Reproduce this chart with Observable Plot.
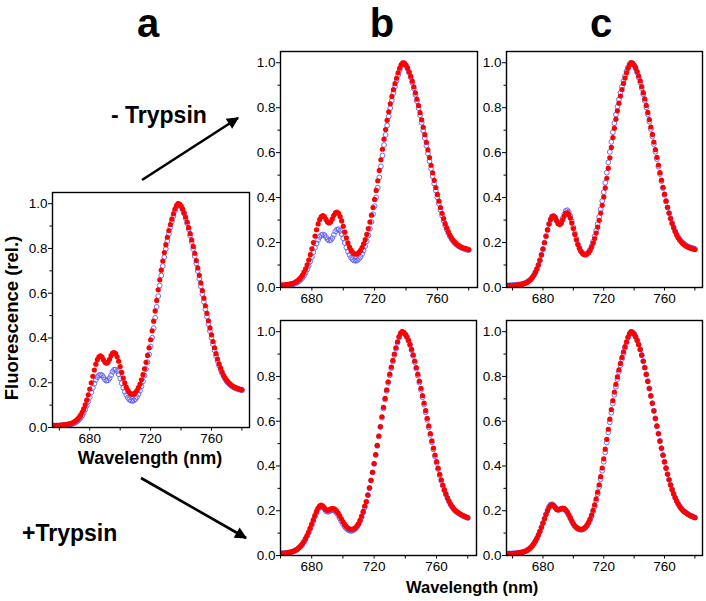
<!DOCTYPE html>
<html>
<head>
<meta charset="utf-8">
<script src="https://cdn.jsdelivr.net/npm/d3@7"></script>
<script src="https://cdn.jsdelivr.net/npm/@observablehq/plot@0.6"></script>
<style>
  html, body { margin: 0; padding: 0; background: #fff; }
  #chart { position: relative; width: 706px; height: 601px; background: #fff; overflow: hidden; }
  #chart svg { position: absolute; overflow: visible; }
</style>
</head>
<body>
<div id="chart"></div>
<script>
// ---------------- DATA ----------------
const wavelength = [
  655,656,657,658,659,660,661,662,663,664,
  665,666,667,668,669,670,671,672,673,674,
  675,676,677,678,679,680,681,682,683,684,
  685,686,687,688,689,690,691,692,693,694,
  695,696,697,698,699,700,701,702,703,704,
  705,706,707,708,709,710,711,712,713,714,
  715,716,717,718,719,720,721,722,723,724,
  725,726,727,728,729,730,731,732,733,734,
  735,736,737,738,739,740,741,742,743,744,
  745,746,747,748,749,750,751,752,753,754,
  755,756,757,758,759,760,761,762,763,764,
  765,766,767,768,769,770,771,772,773,774,
  775,776,777,778,779,780
];

// - Trypsin, sample a / b (red = filled, blue = open)
const minusRed = [
  .010,.010,.010,.010,.010,.010,.011,.011,.012,.013,
  .014,.015,.017,.019,.022,.026,.031,.037,.045,.055,
  .068,.083,.101,.122,.146,.172,.200,.229,.257,.283,
  .303,.316,.320,.315,.303,.291,.287,.292,.305,.321,
  .332,.335,.330,.316,.296,.272,.246,.221,.199,.180,
  .166,.156,.150,.148,.150,.156,.165,.178,.194,.213,
  .236,.262,.291,.322,.356,.392,.432,.475,.521,.568,
  .615,.660,.703,.744,.782,.817,.850,.880,.907,.931,
  .955,.976,.992,1.000,.998,.990,.977,.960,.940,.918,
  .893,.866,.838,.809,.778,.746,.713,.680,.646,.612,
  .578,.544,.510,.477,.445,.414,.384,.356,.330,.306,
  .284,.265,.248,.233,.221,.211,.203,.196,.190,.185,
  .181,.178,.175,.173,.171,.169
];
const minusBlue = [
  .008,.008,.008,.008,.008,.008,.009,.009,.010,.010,
  .011,.012,.013,.015,.017,.020,.024,.029,.035,.043,
  .053,.065,.080,.097,.116,.136,.157,.177,.196,.212,
  .225,.233,.236,.233,.224,.214,.209,.211,.220,.234,
  .249,.258,.259,.252,.238,.219,.198,.178,.160,.145,
  .133,.125,.120,.119,.121,.127,.136,.149,.165,.184,
  .206,.232,.261,.292,.326,.362,.401,.444,.490,.539,
  .587,.634,.679,.721,.761,.798,.833,.865,.894,.920,
  .945,.968,.986,.997,.996,.988,.974,.956,.935,.912,
  .886,.858,.829,.798,.766,.733,.699,.665,.631,.596,
  .562,.528,.495,.462,.431,.401,.372,.345,.320,.297,
  .276,.258,.242,.228,.216,.206,.198,.192,.186,.182,
  .178,.175,.172,.170,.168,.166
];
// - Trypsin, sample c
const cTopRed = [
  .008,.008,.008,.009,.009,.009,.010,.010,.011,.012,
  .013,.014,.016,.018,.021,.025,.030,.036,.044,.054,
  .067,.082,.100,.121,.145,.171,.199,.228,.256,.282,
  .302,.315,.318,.312,.298,.285,.280,.286,.301,.318,
  .330,.332,.325,.309,.287,.262,.236,.212,.191,.174,
  .161,.152,.147,.146,.149,.155,.165,.179,.197,.218,
  .242,.269,.299,.331,.366,.403,.443,.486,.531,.577,
  .623,.667,.709,.749,.786,.820,.852,.881,.908,.932,
  .955,.975,.991,1.000,.998,.990,.978,.961,.941,.919,
  .894,.867,.839,.810,.779,.747,.714,.681,.647,.613,
  .579,.545,.511,.478,.446,.415,.385,.357,.331,.307,
  .285,.266,.249,.234,.221,.211,.203,.196,.190,.185,
  .181,.178,.175,.173,.171,.169
];
const cTopBlue = [
  .009,.009,.009,.010,.010,.010,.011,.011,.012,.013,
  .014,.015,.017,.019,.022,.026,.031,.037,.045,.055,
  .068,.083,.101,.122,.146,.172,.200,.229,.257,.283,
  .303,.316,.318,.311,.297,.285,.282,.290,.308,.327,
  .341,.344,.336,.318,.294,.268,.241,.216,.194,.176,
  .162,.152,.147,.146,.150,.157,.168,.184,.204,.227,
  .253,.282,.314,.348,.385,.424,.466,.511,.557,.603,
  .648,.691,.731,.769,.804,.836,.866,.893,.918,.941,
  .962,.980,.994,1.000,.996,.987,.974,.956,.935,.912,
  .887,.860,.831,.801,.770,.738,.705,.672,.638,.604,
  .571,.538,.505,.473,.442,.412,.383,.356,.331,.308,
  .287,.268,.251,.236,.224,.214,.206,.199,.193,.188,
  .184,.181,.178,.176,.174,.172
];
// + Trypsin, sample b
const bBotRed = [
  .008,.008,.008,.009,.009,.009,.010,.010,.011,.012,
  .013,.014,.016,.018,.021,.025,.030,.036,.043,.052,
  .062,.075,.089,.105,.122,.140,.159,.178,.196,.211,
  .221,.225,.222,.214,.206,.202,.203,.207,.210,.210,
  .206,.199,.189,.177,.164,.151,.140,.131,.124,.119,
  .117,.117,.119,.124,.132,.143,.158,.176,.197,.221,
  .240,.270,.302,.336,.372,.411,.451,.492,.534,.576,
  .620,.662,.702,.740,.776,.810,.842,.872,.900,.928,
  .955,.978,.994,1.000,.996,.988,.977,.962,.943,.921,
  .896,.869,.840,.810,.779,.747,.714,.681,.647,.613,
  .579,.545,.512,.480,.449,.419,.390,.363,.338,.315,
  .294,.275,.258,.243,.230,.219,.210,.202,.196,.191,
  .186,.182,.178,.175,.172,.169
];
const bBotBlue = [
  .008,.008,.008,.009,.009,.009,.010,.010,.011,.012,
  .013,.014,.016,.018,.021,.024,.029,.035,.042,.050,
  .060,.072,.086,.101,.118,.136,.154,.173,.190,.205,
  .215,.219,.216,.208,.199,.195,.196,.200,.203,.202,
  .198,.190,.179,.166,.153,.141,.130,.122,.116,.112,
  .110,.111,.114,.119,.127,.138,.153,.171,.192,.215,
  .241,.270,.301,.335,.371,.409,.449,.490,.532,.574,
  .616,.657,.697,.735,.771,.805,.837,.867,.896,.924,
  .951,.975,.992,.999,.996,.988,.976,.960,.940,.917,
  .892,.864,.835,.804,.773,.740,.707,.674,.640,.606,
  .572,.539,.506,.474,.443,.414,.386,.359,.334,.311,
  .290,.272,.255,.240,.227,.216,.207,.200,.194,.189,
  .185,.181,.177,.174,.171,.168
];
// + Trypsin, sample c
const cBotRed = [
  .008,.008,.008,.009,.009,.009,.010,.010,.011,.012,
  .013,.014,.016,.018,.021,.025,.030,.036,.044,.053,
  .064,.077,.092,.108,.126,.145,.164,.183,.200,.214,
  .223,.226,.222,.214,.206,.203,.205,.209,.211,.209,
  .204,.195,.183,.169,.155,.143,.133,.126,.121,.118,
  .117,.118,.121,.127,.136,.148,.163,.181,.202,.226,
  .253,.283,.316,.352,.391,.432,.475,.519,.564,.609,
  .652,.692,.730,.765,.798,.829,.858,.885,.910,.933,
  .955,.976,.992,1.000,.997,.989,.977,.961,.942,.920,
  .895,.868,.839,.809,.778,.746,.713,.680,.646,.612,
  .578,.544,.511,.479,.448,.418,.390,.363,.338,.315,
  .294,.275,.258,.243,.230,.219,.210,.202,.196,.191,
  .186,.182,.178,.175,.172,.169
];
const cBotBlue = [
  .008,.008,.008,.009,.009,.009,.010,.010,.011,.012,
  .013,.014,.016,.018,.021,.025,.030,.036,.044,.053,
  .064,.077,.092,.108,.126,.145,.165,.185,.203,.218,
  .227,.229,.225,.217,.209,.205,.206,.209,.210,.207,
  .201,.191,.179,.165,.152,.140,.131,.124,.119,.116,
  .115,.116,.119,.125,.134,.145,.159,.176,.196,.219,
  .245,.274,.306,.341,.379,.419,.461,.505,.550,.595,
  .638,.679,.718,.754,.788,.820,.850,.878,.904,.928,
  .951,.973,.990,.999,.997,.990,.978,.962,.943,.921,
  .896,.869,.840,.810,.779,.747,.714,.681,.647,.613,
  .579,.545,.512,.480,.449,.419,.391,.364,.339,.316,
  .295,.276,.259,.244,.231,.220,.211,.203,.197,.192,
  .187,.183,.179,.176,.173,.170
];

const yMajorTicks = [0, 0.2, 0.4, 0.6, 0.8, 1.0];
const yMinorTicks = [0.1, 0.3, 0.5, 0.7, 0.9];
const xMajorTicks = [680, 720, 760];
const xMinorTicks = [660, 700, 740, 780];

const panelLetters = ["a", "b", "c"];
const conditionLabels = ["- Trypsin", "+Trypsin"];
const yTitle = "Fluorescence (rel.)";
const xTitle = "Wavelength (nm)";

// ---------------- LAYOUT ----------------
const chart = document.getElementById("chart");
const ML = 34, MR = 4, MT = 4, MB = 26;
const FONT = "'Liberation Sans', Arial, Helvetica, sans-serif";

function panel(cfg, red, blue) {
  const redData = wavelength.map((w, i) => ({w, v: red[i]}));
  const blueData = wavelength.map((w, i) => ({w, v: blue[i]}));
  const svg = Plot.plot({
    width: cfg.w + ML + MR,
    height: cfg.h + MT + MB,
    marginLeft: ML, marginRight: MR, marginTop: MT, marginBottom: MB,
    x: {domain: cfg.xDomain},
    y: {domain: [0, 1.05]},
    style: {fontFamily: FONT, fontSize: "13.5px", color: "#000", background: "transparent", overflow: "visible"},
    marks: [
      Plot.axisY({ticks: yMajorTicks, tickSize: 4, tickPadding: 1, tickFormat: d3.format(".1f"), label: null, fontSize: 13.5}),
      Plot.axisY({ticks: yMinorTicks, tickSize: 2.5, tickFormat: () => "", label: null}),
      Plot.axisX({ticks: xMajorTicks, tickSize: 3.5, tickPadding: 2, tickFormat: d3.format("d"), label: null, fontSize: 13.5}),
      Plot.axisX({ticks: xMinorTicks.filter(t => t >= cfg.xDomain[0] && t <= cfg.xDomain[1]), tickSize: 3.5, tickFormat: () => "", label: null}),
      Plot.dot(blueData, {x: "w", y: "v", r: 2.4, stroke: "#5a5aff", strokeWidth: 0.9, fill: "none", clip: true}),
      Plot.dot(redData, {x: "w", y: "v", r: 2.6, fill: "#ff0000", stroke: "none", clip: true}),
      Plot.frame({stroke: "#000", strokeWidth: 1.4})
    ]
  });
  svg.style.left = (cfg.left - ML) + "px";
  svg.style.top = (cfg.top - MT) + "px";
  chart.appendChild(svg);
}

panel({left: 52, top: 192, w: 197, h: 235, xDomain: [655.5, 785]}, minusRed, minusBlue);
panel({left: 280, top: 51, w: 197, h: 236, xDomain: [660, 785.6]}, minusRed, minusBlue);
panel({left: 506, top: 51, w: 196, h: 236, xDomain: [656, 785]}, cTopRed, cTopBlue);
panel({left: 280, top: 320, w: 196, h: 235, xDomain: [660, 785.6]}, bBotRed, bBotBlue);
panel({left: 506, top: 320, w: 196, h: 235, xDomain: [656, 785]}, cBotRed, cBotBlue);

// ---------------- ANNOTATIONS ----------------
const ns = "http://www.w3.org/2000/svg";
const ov = document.createElementNS(ns, "svg");
ov.setAttribute("width", 706);
ov.setAttribute("height", 601);
ov.style.left = "0px"; ov.style.top = "0px";
ov.innerHTML = `
<defs>
  <marker id="ah" viewBox="0 0 10 10" refX="9" refY="5" markerWidth="5.2" markerHeight="4.6" orient="auto" markerUnits="strokeWidth">
    <path d="M0,0 L10,5 L0,10 z" fill="#000"/>
  </marker>
</defs>`;
chart.appendChild(ov);

function txt(str, x, y, size, anchor, rotate) {
  const t = document.createElementNS(ns, "text");
  t.textContent = str;
  t.setAttribute("x", x); t.setAttribute("y", y);
  t.setAttribute("font-family", FONT);
  t.setAttribute("font-weight", "bold");
  t.setAttribute("font-size", size);
  t.setAttribute("text-anchor", anchor || "start");
  t.setAttribute("fill", "#000");
  if (rotate) t.setAttribute("transform", `rotate(${rotate} ${x} ${y})`);
  ov.appendChild(t);
}
function arrow(x1, y1, x2, y2) {
  const l = document.createElementNS(ns, "line");
  l.setAttribute("x1", x1); l.setAttribute("y1", y1);
  l.setAttribute("x2", x2); l.setAttribute("y2", y2);
  l.setAttribute("stroke", "#000"); l.setAttribute("stroke-width", 2.6);
  l.setAttribute("marker-end", "url(#ah)");
  ov.appendChild(l);
}

txt(panelLetters[0], 148, 37, 40, "middle");
txt(panelLetters[1], 382, 37, 40, "middle");
txt(panelLetters[2], 601, 37, 40, "middle");
txt(conditionLabels[0], 111, 123, 23, "start");
txt(conditionLabels[1], 22, 541, 23, "start");
arrow(142, 180, 238, 118);
arrow(141, 478, 246, 538);
txt(yTitle, 18, 318, 18.5, "middle", -90);
txt(xTitle, 150, 464, 18, "middle");
txt(xTitle, 406, 593, 16.5, "start");
</script>
</body>
</html>
